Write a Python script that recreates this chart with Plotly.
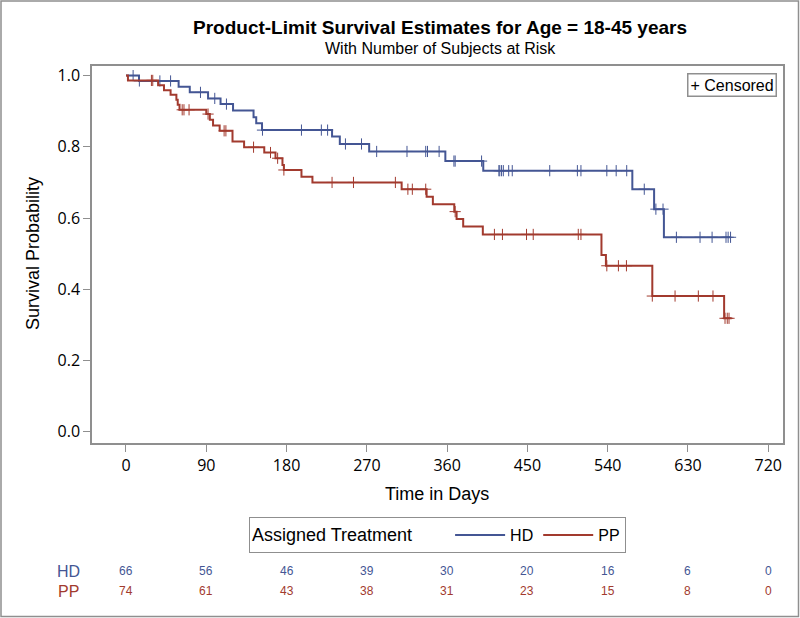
import numpy as np
import plotly.graph_objects as go

# ---- data ----
hd_step_days = [0, 14.6, 59, 71.5, 92, 106, 120, 143, 146, 152.5, 231, 239.7, 272.6,
                358, 400.5, 567.6, 592, 603, 678]
hd_surv = [1.0, 0.985, 0.969, 0.953, 0.936, 0.920, 0.902, 0.883, 0.866, 0.847, 0.829,
           0.808, 0.787, 0.760, 0.733, 0.681, 0.625, 0.546, 0.546]
hd_censor_days = [8, 15, 38, 50, 83.5, 99.5, 112.6, 153, 196.7, 219, 226, 246, 264, 281,
                  315, 336, 338, 351, 367.6, 369, 398.6, 418, 419, 421, 423, 429, 433, 475,
                  506, 510, 539, 549.5, 561.3, 581, 594, 602, 617, 643.5, 657, 672.6, 675, 677.7]

pp_step_days = [0, 2.2, 36, 42.6, 50, 56.5, 58, 60, 90, 94, 97.6, 105, 119.4, 132.4, 155,
                167.6, 175.4, 177, 196.7, 209, 309, 337, 344, 368, 370.6, 378, 400, 533,
                538, 590, 670.5, 679]
pp_surv = [1.0, 0.9865, 0.973, 0.959, 0.946, 0.932, 0.918, 0.904, 0.892, 0.876, 0.860,
           0.845, 0.815, 0.799, 0.784, 0.768, 0.749, 0.735, 0.716, 0.700, 0.681, 0.660,
           0.639, 0.618, 0.597, 0.576, 0.554, 0.496, 0.466, 0.381, 0.3185, 0.3185]
pp_censor_days = [28.5, 30, 63, 65, 70.7, 92, 110, 112, 143, 162, 170, 177, 231, 255, 302,
                  316, 321, 336, 369, 413, 422, 449, 456.5, 507, 510, 539, 552, 561, 590,
                  615.5, 641.6, 658, 671.5, 674, 676]

risk_days = [0, 90, 180, 270, 360, 450, 540, 630, 720]
hd_at_risk = [66, 56, 46, 39, 30, 20, 16, 6, 0]
pp_at_risk = [74, 61, 43, 38, 31, 23, 15, 8, 0]

x_ticks = [0, 90, 180, 270, 360, 450, 540, 630, 720]
y_ticks = [0.0, 0.2, 0.4, 0.6, 0.8, 1.0]

HD_COLOR = "#445694"
PP_COLOR = "#A23A2E"
GRID_GRAY = "#8f8f8f"
FONT = "Liberation Sans"
TICK_FONT = "Open Sans"


def surv_at(days, step_days, surv):
    idx = np.searchsorted(np.array(step_days), np.array(days), side="right") - 1
    return np.array(surv)[idx]


fig = go.Figure()
for name, sd, sv, cd, col in [("HD", hd_step_days, hd_surv, hd_censor_days, HD_COLOR),
                              ("PP", pp_step_days, pp_surv, pp_censor_days, PP_COLOR)]:
    fig.add_trace(go.Scatter(x=sd, y=sv, mode="lines", name=name,
                             line=dict(color=col, width=2, shape="hv")))
    fig.add_trace(go.Scatter(x=cd, y=surv_at(cd, sd, sv), mode="markers", showlegend=False,
                             marker=dict(symbol="cross-thin", size=8,
                                         line=dict(color=col, width=1), color=col),
                             hoverinfo="skip"))

# plot area geometry (px)
W, H = 800, 618
L, R, T, B = 92, 783, 66, 443
pw, ph = R - L, B - T


def px_x(x):
    return (x - L) / pw


def px_y(y):
    return (B - y) / ph


fig.update_layout(
    width=W, height=H,
    margin=dict(l=L, r=W - R, t=T, b=H - B, pad=0),
    paper_bgcolor="white", plot_bgcolor="white",
    font=dict(family=FONT, color="black"),
    showlegend=True,
    legend=dict(orientation="h", x=px_x(437.5), xanchor="center", y=px_y(535), yanchor="middle",
                bordercolor=GRID_GRAY, borderwidth=1, bgcolor="white",
                font=dict(size=16, family=FONT),
                title=dict(text="Assigned Treatment      ", font=dict(size=18, family=FONT)),
                itemwidth=50, tracegroupgap=0),
    xaxis=dict(range=[-38.1, 736.5], tickvals=x_ticks, ticktext=[str(v) for v in x_ticks],
               showgrid=False, zeroline=False, showline=True, mirror=True,
               linecolor=GRID_GRAY, linewidth=1.5, ticks="outside", ticklen=7,
               tickcolor=GRID_GRAY, tickfont=dict(size=16, family=TICK_FONT)),
    yaxis=dict(range=[-0.0317, 1.027], tickvals=y_ticks,
               ticktext=[f"{v:.1f}" for v in y_ticks],
               showgrid=False, zeroline=False, showline=True, mirror=True,
               linecolor=GRID_GRAY, linewidth=1.5, ticks="outside", ticklen=7,
               tickcolor=GRID_GRAY, tickfont=dict(size=16, family=TICK_FONT)),
)

ann = []
ann.append(dict(text="<b>Product-Limit Survival Estimates for Age = 18-45 years</b>",
                x=px_x(440), y=px_y(27), xref="paper", yref="paper", showarrow=False,
                xanchor="center", yanchor="middle", font=dict(size=19, family=FONT)))
ann.append(dict(text="With Number of Subjects at Risk", x=px_x(440), y=px_y(48),
                xref="paper", yref="paper", showarrow=False, xanchor="center",
                yanchor="middle", font=dict(size=16, family=FONT)))
ann.append(dict(text="Time in Days", x=px_x(437), y=px_y(494), xref="paper", yref="paper",
                showarrow=False, xanchor="center", yanchor="middle",
                font=dict(size=18, family=FONT)))
ann.append(dict(text="Survival Probability", x=px_x(33), y=px_y(254), xref="paper",
                yref="paper", showarrow=False, xanchor="center", yanchor="middle",
                textangle=-90, font=dict(size=18, family=FONT)))
ann.append(dict(text="+ Censored", x=px_x(776.5), y=px_y(73.5), xref="paper", yref="paper",
                showarrow=False, xanchor="right", yanchor="top", bordercolor=GRID_GRAY,
                borderwidth=1.5, borderpad=2, bgcolor="white",
                font=dict(size=16, family=FONT)))
# at-risk table
for label, vals, col, ypx in [("HD", hd_at_risk, HD_COLOR, 571), ("PP", pp_at_risk, PP_COLOR, 591)]:
    ann.append(dict(text=label, x=px_x(68), y=px_y(ypx), xref="paper", yref="paper",
                    showarrow=False, xanchor="center", yanchor="middle",
                    font=dict(size=16, family=FONT, color=col)))
    for d, v in zip(risk_days, vals):
        ann.append(dict(text=str(v), x=d, y=px_y(ypx), xref="x", yref="paper",
                        showarrow=False, xanchor="center", yanchor="middle",
                        font=dict(size=12, family=FONT, color=col)))
fig.update_layout(annotations=ann)

# outer border
fig.add_shape(type="rect", xref="paper", yref="paper",
              x0=px_x(1), x1=px_x(798.5), y0=px_y(616.5), y1=px_y(1),
              line=dict(color=GRID_GRAY, width=1.5), layer="below")

fig.write_html("out.html", config={"displayModeBar": False},
               post_script="document.body.style.margin='0px';document.body.style.overflow='hidden';")
